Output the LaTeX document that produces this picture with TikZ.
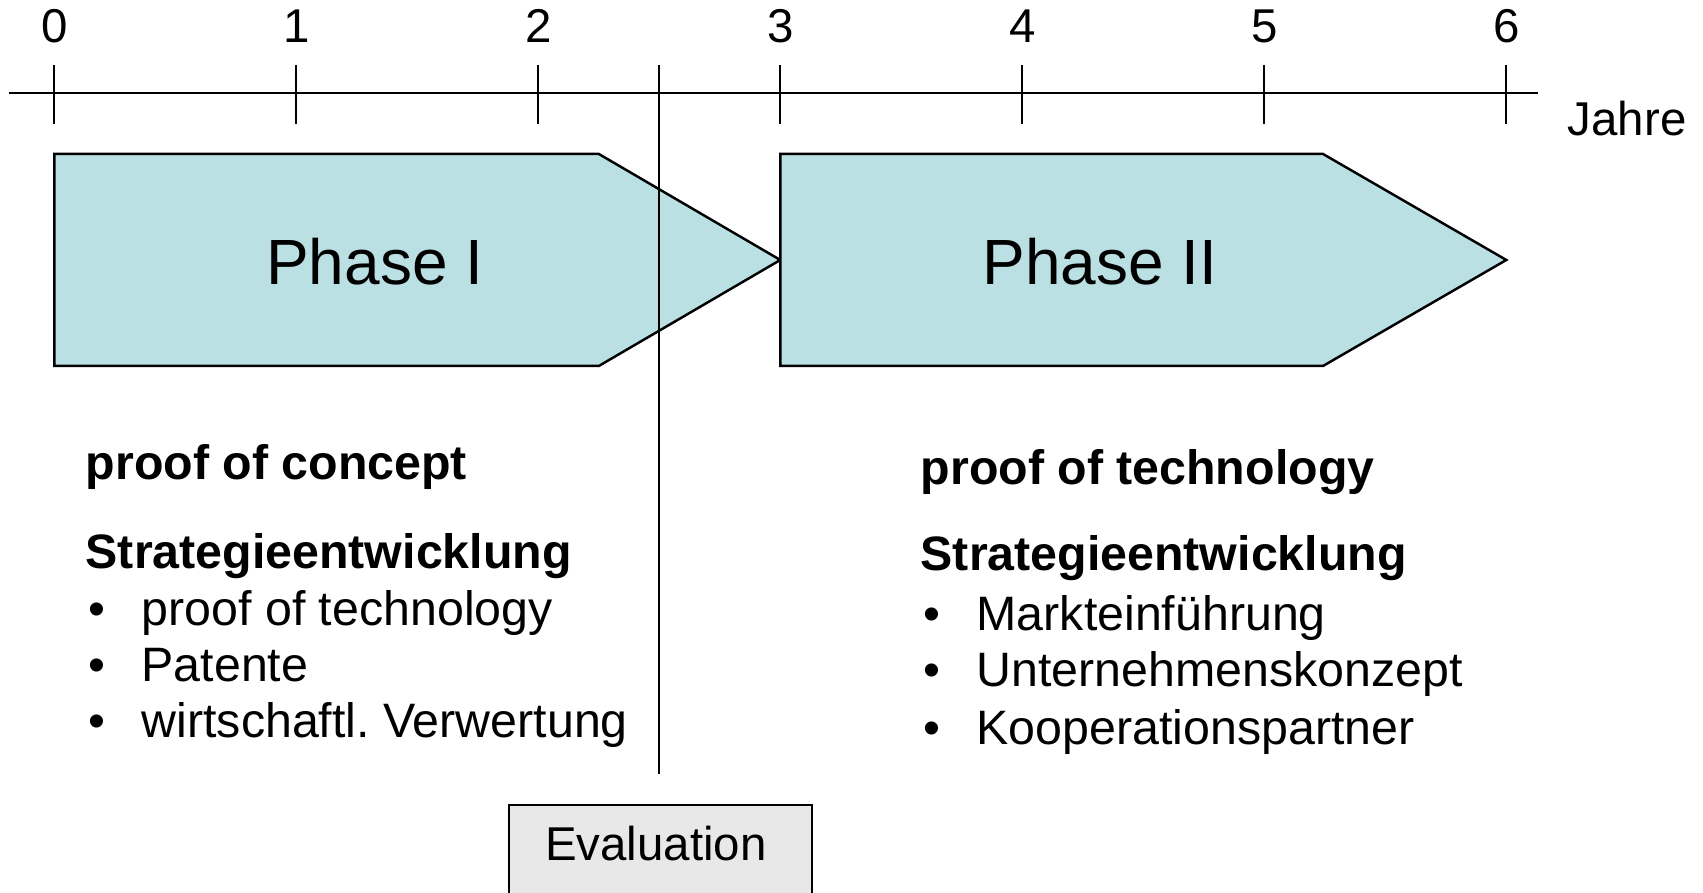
\documentclass[tikz,border=0pt]{standalone}
\usepackage{fontspec}
\setmainfont{Liberation Sans}
\usepackage{xcolor}
\usepackage{tikz}
\usetikzlibrary{positioning}

\definecolor{phasefill}{RGB}{187,224,227}
\definecolor{evalfill}{RGB}{232,232,232}

\tikzset{
  phasebox/.style={draw=black,line width=0.7pt,fill=phasefill,line join=miter},
  ticktxt/.style={anchor=base,inner sep=0pt,font=\fontsize{13.5}{16}\selectfont},
  bodytxt/.style={anchor=base west,inner sep=0pt,font=\fontsize{13.75}{16}\selectfont},
  headtxt/.style={bodytxt,font=\fontsize{13.75}{16}\selectfont\bfseries},
  phasetxt/.style={anchor=base,inner sep=0pt,font=\fontsize{18.2}{22}\selectfont}
}

\begin{document}
\frenchspacing
\begin{tikzpicture}
    \useasboundingbox (0,0) rectangle (17.03,8.93);
    % time axis
    \coordinate (axisl) at (0.09,8.00);
    \coordinate (axisr) at (15.38,8.00);
    \draw[line width=0.8pt] (axisl) -- (axisr);
    \draw[line width=0.6pt] (0.543,8.28) -- (0.543,7.69);
    \draw[line width=0.6pt] (2.963,8.28) -- (2.963,7.69);
    \draw[line width=0.6pt] (5.383,8.28) -- (5.383,7.69);
    \draw[line width=0.6pt] (7.803,8.28) -- (7.803,7.69);
    \draw[line width=0.6pt] (10.223,8.28) -- (10.223,7.69);
    \draw[line width=0.6pt] (12.643,8.28) -- (12.643,7.69);
    \draw[line width=0.6pt] (15.063,8.28) -- (15.063,7.69);
    \node[ticktxt] (y0) at (0.543,8.50) {0};
    \node[ticktxt] (y1) at (2.963,8.50) {1};
    \node[ticktxt] (y2) at (5.383,8.50) {2};
    \node[ticktxt] (y3) at (7.803,8.50) {3};
    \node[ticktxt] (y4) at (10.223,8.50) {4};
    \node[ticktxt] (y5) at (12.643,8.50) {5};
    \node[ticktxt] (y6) at (15.063,8.50) {6};
    \node[anchor=base west,inner sep=0pt,font=\fontsize{13.5}{16}\selectfont]
      (jahre) at (15.67,7.57) {Jahre};

    % phases
    \draw[phasebox] (0.543,7.39) -- (5.988,7.39) -- (7.803,6.33)
      -- (5.988,5.27) -- (0.543,5.27) -- cycle;
    \draw[phasebox] (7.803,7.39) -- (13.23,7.39) -- (15.063,6.33)
      -- (13.23,5.27) -- (7.803,5.27) -- cycle;
    \node[phasetxt] (phase1) at (3.747,6.08) {Phase I};
    \node[phasetxt] (phase2) at (11.00,6.08) {Phase II};

    % evaluation
    \coordinate (evaltop) at (6.593,8.28);
    \coordinate (evalbot) at (6.593,1.19);
    \draw[line width=0.6pt] (evaltop) -- (evalbot);
    \draw[line width=0.6pt,fill=evalfill] (5.09,0.88) rectangle (8.12,-0.2);
    \node[anchor=base,inner sep=0pt,font=\fontsize{13.5}{16}\selectfont]
      (evaluation) at (6.56,0.32) {Evaluation};

    % left text
    \node[headtxt] (concept) at (0.85,4.13) {proof of concept};
    \node[headtxt] (strat1) at (0.85,3.24) {Strategieentwicklung};
    \node[bodytxt] (b11) at (0.88,2.67) {•};
    \node[bodytxt] (l11) at (1.41,2.67) {proof of technology};
    \node[bodytxt] (b12) at (0.88,2.11) {•};
    \node[bodytxt] (l12) at (1.41,2.11) {Patente};
    \node[bodytxt] (b13) at (0.88,1.55) {•};
    \node[bodytxt] (l13) at (1.41,1.55) {wirtschaftl. Verwertung};

    % right text
    \node[headtxt] (techno) at (9.20,4.08) {proof of technology};
    \node[headtxt] (strat2) at (9.20,3.22) {Strategieentwicklung};
    \node[bodytxt] (b21) at (9.23,2.62) {•};
    \node[bodytxt] (l21) at (9.76,2.62) {Markteinführung};
    \node[bodytxt] (b22) at (9.23,2.06) {•};
    \node[bodytxt] (l22) at (9.76,2.06) {Unternehmenskonzept};
    \node[bodytxt] (b23) at (9.23,1.48) {•};
    \node[bodytxt] (l23) at (9.76,1.48) {Kooperationspartner};
\end{tikzpicture}
\end{document}
